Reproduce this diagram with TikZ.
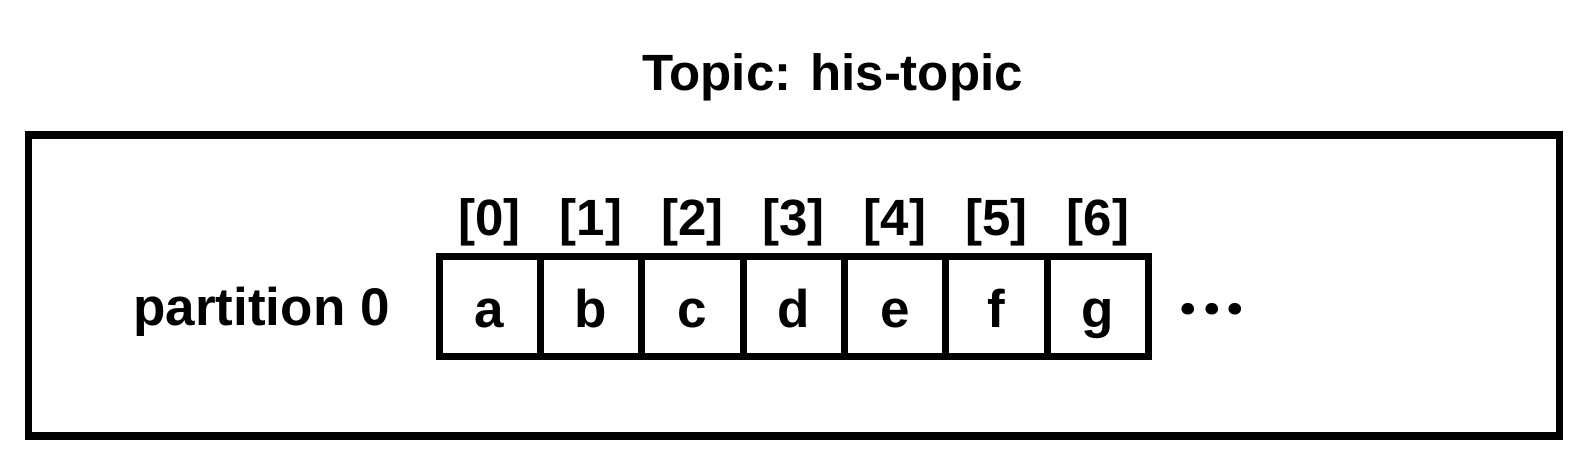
\documentclass[tikz,border=0pt]{standalone}
\usepackage{fontspec}
\setmainfont{Liberation Sans}
\newfontfamily\dotsfont{Poppins}
\begin{document}
\begin{tikzpicture}[x=1pt,y=-1pt,
  lbl/.style={font=\bfseries\fontsize{#1}{#1}\selectfont, inner sep=0pt, anchor=base},
  cellbox/.style={draw, line width=7pt, minimum width=101.36pt, minimum height=100pt,
    inner sep=0pt, anchor=center, font=\bfseries\fontsize{53}{53}\selectfont,
    text height=41pt, text depth=0pt},
  outerbox/.style={draw, line width=7.5pt, minimum width=1531pt, minimum height=301pt,
    inner sep=0pt, anchor=center}]
\useasboundingbox (0,0) rectangle (1586,458);
\node[outerbox] (topic) at (794,285.5) {};
\node[lbl=51] (title) at (832.5,90) {Topic: his-topic};
\node[lbl=53] (part) at (261.5,325) {partition 0};
\foreach \i/\t in {0/a,1/b,2/c,3/d,4/e,5/f,6/g}{
  \node[cellbox] (c\i) at ({439+101.36*(\i+0.5)},306.5) {\t};
  \node[lbl=51] (i\i) at ({439+101.36*(\i+0.5)},235) {[\i]};
}
\node[inner sep=0pt, anchor=base, font=\dotsfont\bfseries\fontsize{62}{62}\selectfont] (dots) at (1212,314) {.\hspace{6pt}.\hspace{6pt}.};
\end{tikzpicture}
\end{document}
